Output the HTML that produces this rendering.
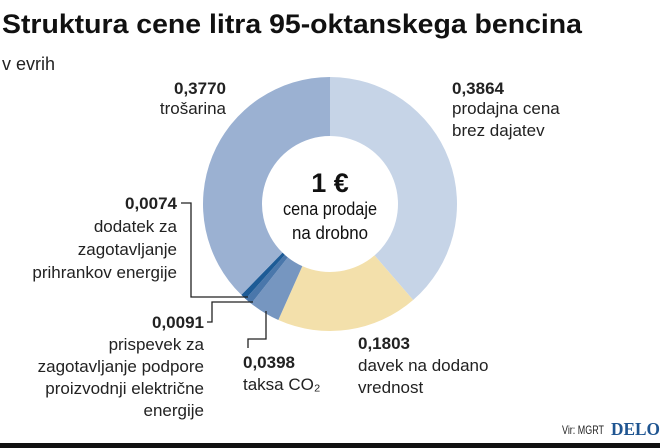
<!DOCTYPE html>
<html><head><meta charset="utf-8"><style>
body{margin:0;background:#fff;}
svg{display:block;font-family:"Liberation Sans",sans-serif;}
</style></head><body>
<svg width="660" height="448" viewBox="0 0 660 448">
<text x="2" y="33" font-size="27" font-weight="bold" fill="#111" textLength="580" lengthAdjust="spacingAndGlyphs">Struktura cene litra 95-oktanskega bencina</text>
<text x="2" y="70" font-size="18" fill="#222">v evrih</text>
<g id="slices"></g>
<g fill="#111" text-anchor="middle">
<text x="330" y="192" font-size="27" font-weight="bold">1 €</text>
<text x="330" y="215" font-size="18" textLength="94" lengthAdjust="spacingAndGlyphs">cena prodaje</text>
<text x="330" y="239" font-size="18" textLength="76" lengthAdjust="spacingAndGlyphs">na drobno</text>
</g>
<g stroke="#222" stroke-width="1.3" fill="none">
<polyline points="181,203 191,203 191,297 248,297"/>
<polyline points="207,322 212,322 212,302 253,302"/>
<polyline points="248,348 248,339 266,339 266,311"/>
</g>
<g font-size="17" fill="#222">
<g text-anchor="end">
<text x="226" y="94" font-weight="bold">0,3770</text><text x="226" y="114">trošarina</text></g>
<g>
<text x="452" y="94" font-weight="bold">0,3864</text><text x="452" y="114">prodajna cena</text><text x="452" y="136">brez dajatev</text></g>
<g>
<text x="358" y="349" font-weight="bold">0,1803</text><text x="358" y="371">davek na dodano</text><text x="358" y="393">vrednost</text></g>
<g>
<text x="243" y="368" font-weight="bold">0,0398</text><text x="243" y="390">taksa CO₂</text></g>
<g text-anchor="end">
<text x="204" y="328" font-weight="bold">0,0091</text><text x="204" y="350">prispevek za</text><text x="204" y="372">zagotavljanje podpore</text><text x="204" y="394">proizvodnji električne</text><text x="204" y="416">energije</text></g>
<g text-anchor="end">
<text x="177" y="209" font-weight="bold">0,0074</text><text x="177" y="232">dodatek za</text><text x="177" y="255">zagotavljanje</text><text x="177" y="278">prihrankov energije</text></g>
</g>
<text x="562" y="434" font-size="12" fill="#222" textLength="42" lengthAdjust="spacingAndGlyphs">Vir: MGRT</text>
<text x="611" y="435" font-size="18" font-weight="bold" fill="#1f5591" font-family="'Liberation Serif',serif" textLength="49" lengthAdjust="spacingAndGlyphs">DELO</text>
<rect x="0" y="443" width="660" height="5" fill="#111"/>
</svg>
<script>
const categories=["prodajna cena brez dajatev","davek na dodano vrednost","taksa CO2","prispevek","dodatek","trošarina"];
const values=[0.3864,0.1803,0.0398,0.0091,0.0074,0.3770];
const colors=["#c6d4e7","#f3e0ab","#7696c0","#4a77ab","#1d5b96","#9bb1d2"];
const cx=330,cy=204,R=127,r=68;
const total=values.reduce((a,b)=>a+b,0);
const g=document.getElementById('slices');
let a0=0;
function pt(rad,a){return [cx+rad*Math.sin(a),cy-rad*Math.cos(a)];}
values.forEach((v,i)=>{
  const a1=a0+v/total*2*Math.PI;
  const large=(a1-a0)>Math.PI?1:0;
  const [x1,y1]=pt(R,a0),[x2,y2]=pt(R,a1),[x3,y3]=pt(r,a1),[x4,y4]=pt(r,a0);
  const p=document.createElementNS('http://www.w3.org/2000/svg','path');
  p.setAttribute('d',`M${x1},${y1}A${R},${R} 0 ${large} 1 ${x2},${y2}L${x3},${y3}A${r},${r} 0 ${large} 0 ${x4},${y4}Z`);
  p.setAttribute('fill',colors[i]);
  
  
  g.appendChild(p);
  a0=a1;
});
</script>
</body></html>
